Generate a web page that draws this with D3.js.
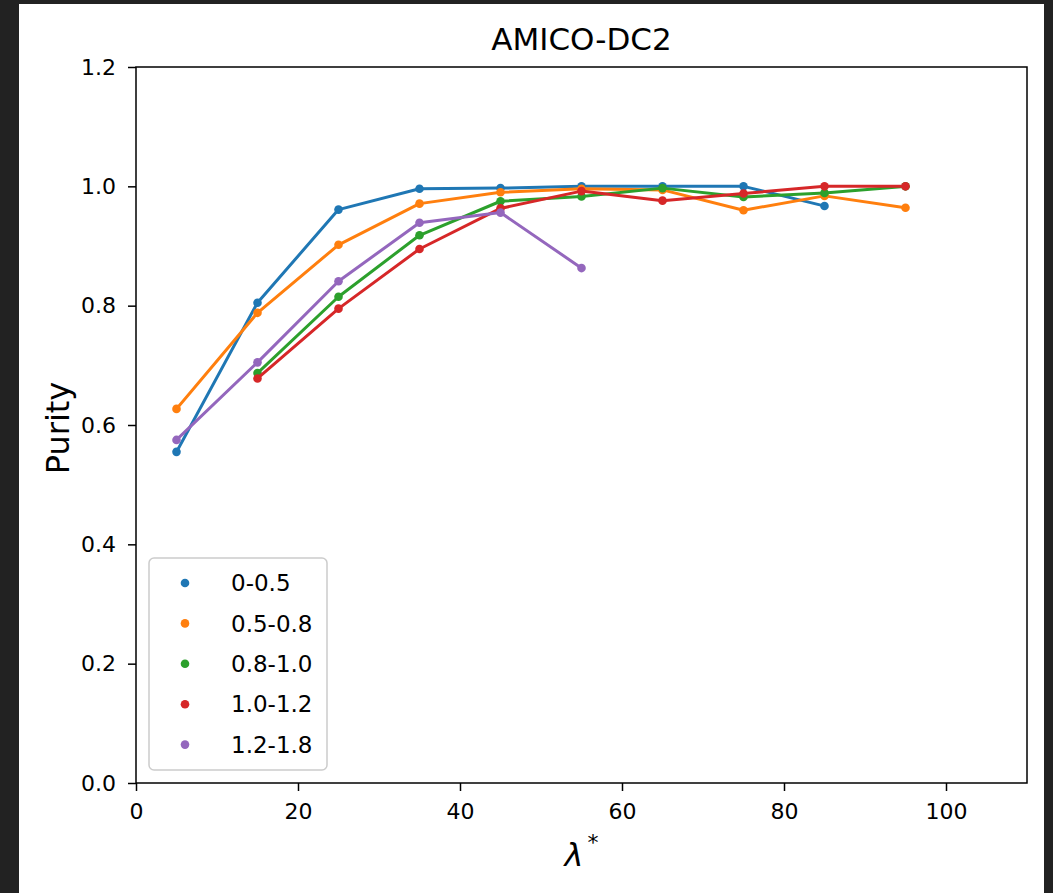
<!DOCTYPE html>
<html>
<head>
<meta charset="utf-8">
<script src="https://cdn.jsdelivr.net/npm/d3@7"></script>
<style>
  html, body { margin: 0; padding: 0; background: #222222; }
  svg { display: block; }
  text { font-family: "DejaVu Sans", sans-serif; fill: #000; }
</style>
</head>
<body>
<svg id="chart" width="1053" height="893"></svg>
<script>
// ---- data ----
const seriesNames = ["0-0.5", "0.5-0.8", "0.8-1.0", "1.0-1.2", "1.2-1.8"];
const seriesColors = ["#1f77b4", "#ff7f0e", "#2ca02c", "#d62728", "#9467bd"];
const xBlue   = [5, 15, 25, 35, 45, 55, 65, 75, 85];
const yBlue   = [0.555, 0.805, 0.961, 0.996, 0.997, 1.0, 1.0, 1.0, 0.967];
const xOrange = [5, 15, 25, 35, 45, 55, 65, 75, 85, 95];
const yOrange = [0.627, 0.788, 0.902, 0.971, 0.990, 0.996, 0.994, 0.960, 0.984, 0.964];
const xGreen  = [15, 25, 35, 45, 55, 65, 75, 85, 95];
const yGreen  = [0.687, 0.815, 0.918, 0.975, 0.983, 0.997, 0.982, 0.989, 1.0];
const xRed    = [15, 25, 35, 45, 55, 65, 75, 85, 95];
const yRed    = [0.678, 0.795, 0.895, 0.963, 0.992, 0.976, 0.988, 1.0, 1.0];
const xPurple = [5, 15, 25, 35, 45, 55];
const yPurple = [0.575, 0.705, 0.841, 0.939, 0.956, 0.863];
const xTicks = [0, 20, 40, 60, 80, 100];
const yTicks = [0.0, 0.2, 0.4, 0.6, 0.8, 1.0, 1.2];
const titleText = "AMICO-DC2";
const yLabelText = "Purity";

const seriesX = [xBlue, xOrange, xGreen, xRed, xPurple];
const seriesY = [yBlue, yOrange, yGreen, yRed, yPurple];

// ---- layout ----
const svg = d3.select("#chart");
svg.append("rect").attr("x", 0).attr("y", 0).attr("width", 1053).attr("height", 893).attr("fill", "#222222");
svg.append("rect").attr("x", 19).attr("y", 4).attr("width", 1025).attr("height", 889).attr("fill", "#ffffff");

const L = 136, R = 1027, T = 67, B = 783;
const x = d3.scaleLinear().domain([0, 110]).range([L, R]);
const y = d3.scaleLinear().domain([0, 1.2]).range([B, T]);

// axes
const xAxis = svg.append("g").attr("transform", `translate(0,${B})`)
  .call(d3.axisBottom(x).tickValues(xTicks).tickFormat(d3.format("d")).tickSize(8).tickPadding(12));
const yAxis = svg.append("g").attr("transform", `translate(${L},0)`)
  .call(d3.axisLeft(y).tickValues(yTicks).tickFormat(d3.format(".1f")).tickSize(8).tickPadding(12));
[xAxis, yAxis].forEach(g => {
  g.select(".domain").remove();
  g.selectAll(".tick line").attr("stroke", "#000").attr("stroke-width", 1.5);
  g.selectAll(".tick text").attr("font-size", 22).attr("font-family", "DejaVu Sans").attr("fill", "#000");
});

// data
const line = d3.line().x(d => x(d[0])).y(d => y(d[1]));
seriesNames.forEach((name, i) => {
  const pts = seriesX[i].map((xv, j) => [xv, seriesY[i][j]]);
  const g = svg.append("g");
  g.selectAll("circle").data(pts).enter().append("circle")
    .attr("cx", d => x(d[0])).attr("cy", d => y(d[1])).attr("r", 4.3)
    .attr("fill", seriesColors[i]);
  g.append("path").datum(pts).attr("d", line)
    .attr("fill", "none").attr("stroke", seriesColors[i]).attr("stroke-width", 3)
    .attr("stroke-linejoin", "round").attr("stroke-linecap", "square");
});

// spines
svg.append("rect").attr("x", L).attr("y", T).attr("width", R - L).attr("height", B - T)
  .attr("fill", "none").attr("stroke", "#000").attr("stroke-width", 1.5);

// title
svg.append("text").attr("x", (L + R) / 2).attr("y", 50).attr("text-anchor", "middle")
  .attr("font-size", 31).text(titleText);

// y label
svg.append("text").attr("transform", `translate(69,${(T + B) / 2 + 3}) rotate(-90)`)
  .attr("text-anchor", "middle").attr("font-size", 32).text(yLabelText);

// x label: λ*
const xl = svg.append("text").attr("x", (L + R) / 2).attr("y", 866).attr("text-anchor", "middle")
  .attr("font-size", 32);
xl.append("tspan").attr("font-style", "italic").text("λ");
xl.append("tspan").attr("font-size", 22).attr("dy", -16).attr("dx", 4).text("*");

// legend
const lg = svg.append("g");
lg.append("rect").attr("x", 149).attr("y", 558).attr("width", 178).attr("height", 212)
  .attr("rx", 5).attr("fill", "#ffffff").attr("fill-opacity", 0.8)
  .attr("stroke", "#cccccc").attr("stroke-width", 1.5);
seriesNames.forEach((name, i) => {
  const cy = 583 + i * 40.4;
  lg.append("circle").attr("cx", 185).attr("cy", cy).attr("r", 4.3).attr("fill", seriesColors[i]);
  lg.append("text").attr("x", 231).attr("y", cy).attr("dy", "0.36em")
    .attr("font-size", 23).text(name);
});
</script>
</body>
</html>
